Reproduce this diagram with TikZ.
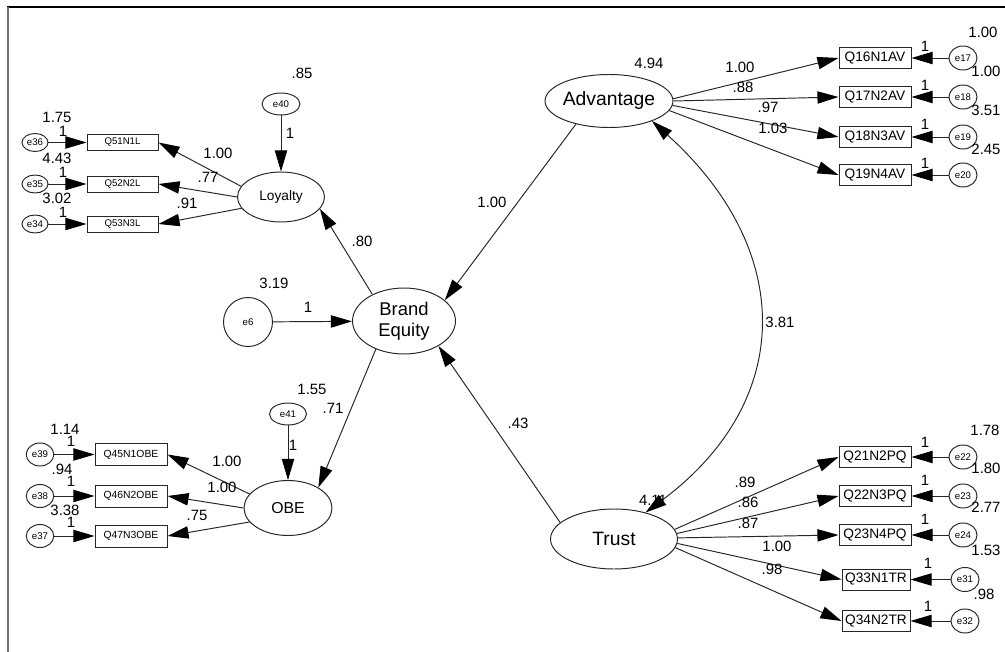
\documentclass[tikz,border=0pt]{standalone}
\usepackage{fontspec}
\setmainfont{Liberation Sans}
\usetikzlibrary{arrows.meta,shapes.geometric}
\begin{document}
\begin{tikzpicture}[x=0.02cm,y=-0.02cm,
  line/.style={draw=black!85, line width=0.55pt},
  arr/.style={line, -{Triangle[length=12pt,width=7pt,color=black]}},
  dbl/.style={line, {Triangle[length=12pt,width=7pt,color=black]}-{Triangle[length=12pt,width=7pt,color=black]}},
  latent/.style={ellipse, draw=black!85, line width=0.55pt, inner sep=0pt},
  obsbig/.style={rectangle, draw=black!85, line width=0.55pt, inner sep=0pt,
    minimum height=0.42cm, font=\fontsize{7.8}{8}\selectfont},
  obssmall/.style={rectangle, draw=black!85, line width=0.55pt, inner sep=0pt,
    minimum width=1.42cm, minimum height=0.32cm, font=\fontsize{5.5}{6}\selectfont},
  obsmid/.style={rectangle, draw=black!85, line width=0.55pt, inner sep=0pt,
    minimum width=1.44cm, minimum height=0.44cm, font=\fontsize{5.9}{6}\selectfont},
  err/.style={ellipse, draw=black!85, line width=0.55pt, inner sep=0pt,
    font=\fontsize{5.5}{6}\selectfont},
  errR/.style={err, minimum width=0.56cm, minimum height=0.48cm},
  errL/.style={err, minimum width=0.52cm, minimum height=0.36cm},
  errO/.style={err, minimum width=0.55cm, minimum height=0.46cm},
  num/.style={inner sep=0pt, font=\fontsize{8.5}{9}\selectfont},
]
\useasboundingbox (0,0) rectangle (1005,652);

% frame
\draw[black, line width=1pt] (7,7) -- (1005,7);
\draw[black!55, line width=1.1pt] (8,7) -- (8,652);

% latent variables
\node[latent, minimum width=2.56cm, minimum height=1.06cm, font=\fontsize{11}{12}\selectfont] (adv) at (609,101) {\makebox[0pt]{Advantage}};
\node[latent, minimum width=2.54cm, minimum height=1.2cm, font=\fontsize{11}{12}\selectfont] (trust) at (614,539) {Trust};
\node[latent, minimum width=2.06cm, minimum height=1.32cm, font=\fontsize{10.5}{12}\selectfont, align=center] (be) at (404,321) {Brand\\Equity};
\node[latent, minimum width=1.74cm, minimum height=1.0cm, font=\fontsize{7.8}{8}\selectfont] (loy) at (281,197) {Loyalty};
\node[latent, minimum width=1.76cm, minimum height=1.1cm, font=\fontsize{9}{10}\selectfont] (obe) at (288,508) {OBE};

% disturbances
\node[err, minimum width=0.76cm, minimum height=0.44cm] (e40) at (281,104) {e40};
\node[err, minimum width=0.74cm, minimum height=0.44cm] (e41) at (288,414) {e41};
\node[err, minimum width=0.98cm, minimum height=0.98cm] (e6) at (248,322) {e6};

% Advantage indicators
\node[obsbig, minimum width=1.44cm] (q16) at (875,58) {Q16N1AV};
\node[obsbig, minimum width=1.44cm] (q17) at (875,97) {Q17N2AV};
\node[obsbig, minimum width=1.44cm] (q18) at (875,137) {Q18N3AV};
\node[obsbig, minimum width=1.44cm] (q19) at (875,175) {Q19N4AV};
\node[errR] (e17) at (963,58) {e17};
\node[errR] (e18) at (963,97) {e18};
\node[errR] (e19) at (963,137) {e19};
\node[errR] (e20) at (963,175) {e20};

% Trust indicators
\node[obsbig, minimum width=1.44cm] (q21) at (875,457) {Q21N2PQ};
\node[obsbig, minimum width=1.44cm] (q22) at (875,496) {Q22N3PQ};
\node[obsbig, minimum width=1.44cm] (q23) at (875,535) {Q23N4PQ};
\node[obsbig, minimum width=1.36cm] (q33) at (876,579.5) {Q33N1TR};
\node[obsbig, minimum width=1.36cm] (q34) at (876,621) {Q34N2TR};
\node[errR] (e22) at (963,457) {e22};
\node[errR] (e23) at (963,496) {e23};
\node[errR] (e24) at (963,535) {e24};
\node[errR] (e31) at (965,579.5) {e31};
\node[errR] (e32) at (965,621) {e32};

% Loyalty indicators
\node[obssmall] (q51) at (122.5,142.5) {Q51N1L};
\node[obssmall] (q52) at (122.5,184) {Q52N2L};
\node[obssmall] (q53) at (122.5,224) {Q53N3L};
\node[errL] (e36) at (35,142.5) {e36};
\node[errL] (e35) at (35,184) {e35};
\node[errL] (e34) at (35,224) {e34};

% OBE indicators
\node[obsmid] (q45) at (131,454.5) {Q45N1OBE};
\node[obsmid] (q46) at (131,496) {Q46N2OBE};
\node[obsmid] (q47) at (131,536) {Q47N3OBE};
\node[errO] (e39) at (40,454.5) {e39};
\node[errO] (e38) at (40,496) {e38};
\node[errO] (e37) at (40,536) {e37};

% structural paths
\draw[arr] (adv.215) -- (be.27);
\draw[arr] (trust.163) -- (be.-36);
\draw[arr] (be.140) -- (loy.-17);
\draw[arr] (be.225) -- (obe.34);
\draw[arr] (e6) -- (be);
\draw[arr] (e40) -- (loy);
\draw[arr] (e41) -- (obe);
\draw[dbl] (adv.-25) .. controls (795,250) and (795,401) .. (trust.40);

% measurement paths
\draw[arr] (adv.2) -- (q16.west);
\draw[arr] (adv.0) -- (q17.west);
\draw[arr] (adv.-4) -- (q18.west);
\draw[arr] (adv.-9) -- (q19.west);
\draw[arr] (trust.9) -- (q21.west);
\draw[arr] (trust.5) -- (q22.west);
\draw[arr] (trust.1) -- (q23.west);
\draw[arr] (trust.-4) -- (q33.west);
\draw[arr] (trust.-8) -- (q34.west);
\draw[arr] (loy.165) -- (q51.east);
\draw[arr] (loy.180) -- (q52.east);
\draw[arr] (loy.196) -- (q53.east);
\draw[arr] (obe.160) -- (q45.east);
\draw[arr] (obe.180) -- (q46.east);
\draw[arr] (obe.200) -- (q47.east);

% error paths
\foreach \e/\q in {e17/q16,e18/q17,e19/q18,e20/q19,e22/q21,e23/q22,e24/q23,e31/q33,e32/q34,
                   e36/q51,e35/q52,e34/q53,e39/q45,e38/q46,e37/q47}
  \draw[arr] (\e) -- (\q);

% estimates: Advantage block
\node[num] (vadv) at (649,63) {4.94};
\node[num] (w16) at (740,67) {1.00};
\node[num] (w17) at (743,87) {.88};
\node[num] (w18) at (768,107) {.97};
\node[num] (w19) at (773,128) {1.03};
\node[num] (v17) at (983,32) {1.00};
\node[num] (v18) at (986,71) {1.00};
\node[num] (v19) at (986,110) {3.51};
\node[num] (v20) at (986,149) {2.45};
\node[num] (f17) at (925,46) {1};
\node[num] (f18) at (925,85) {1};
\node[num] (f19) at (925,124) {1};
\node[num] (f20) at (925,163) {1};

% estimates: Trust block
\node[num] (vtr) at (653,500) {4.11};
\node[num] (cov) at (780,322) {3.81};
\node[num] (w21) at (745,482) {.89};
\node[num] (w22) at (748,502) {.86};
\node[num] (w23) at (748,523) {.87};
\node[num] (w33) at (777,546) {1.00};
\node[num] (w34) at (772,569) {.98};
\node[num] (v22) at (985,430) {1.78};
\node[num] (v23) at (986,468) {1.80};
\node[num] (v24) at (986,507) {2.77};
\node[num] (v31) at (986,550) {1.53};
\node[num] (v32) at (984,594) {.98};
\node[num] (f22) at (925,442) {1};
\node[num] (f23) at (925,480) {1};
\node[num] (f24) at (925,519) {1};
\node[num] (f31) at (928,563) {1};
\node[num] (f32) at (928,606) {1};

% estimates: structural part
\node[num] (wadv) at (492,202) {1.00};
\node[num] (wloy) at (362,241) {.80};
\node[num] (v6) at (274,283) {3.19};
\node[num] (f6) at (308,307) {1};
\node[num] (wtr) at (518,423) {.43};
\node[num] (v41) at (312,389) {1.55};
\node[num] (wobe) at (333,408) {.71};
\node[num] (f41) at (293,445) {1};
\node[num] (v40) at (302,73) {.85};
\node[num] (f40) at (290,133) {1};

% estimates: Loyalty block
\node[num] (w51) at (218,153) {1.00};
\node[num] (w52) at (208,177) {.77};
\node[num] (w53) at (187,203) {.91};
\node[num] (v36) at (57,117) {1.75};
\node[num] (v35) at (57,158) {4.43};
\node[num] (v34) at (57,198) {3.02};
\node[num] (f36) at (63,131) {1};
\node[num] (f35) at (63,172) {1};
\node[num] (f34) at (63,212) {1};

% estimates: OBE block
\node[num] (w45) at (227,461) {1.00};
\node[num] (w46) at (222,487) {1.00};
\node[num] (w47) at (197,515) {.75};
\node[num] (v39) at (65,429) {1.14};
\node[num] (v38) at (62,469) {.94};
\node[num] (v37) at (65,510) {3.38};
\node[num] (f39) at (71,441) {1};
\node[num] (f38) at (71,481) {1};
\node[num] (f37) at (71,522) {1};
\end{tikzpicture}
\end{document}
